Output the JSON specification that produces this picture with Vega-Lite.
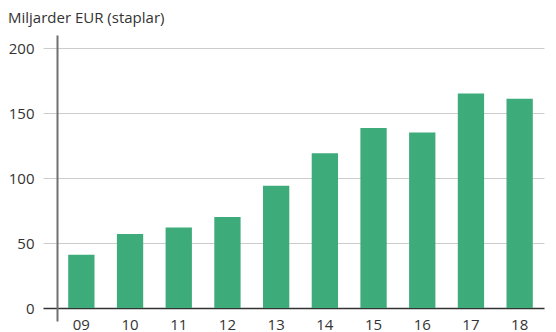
{
  "$schema": "https://vega.github.io/schema/vega-lite/v6.json",
  "autosize": "none",
  "width": 499,
  "height": 286,
  "padding": {"left": 57, "top": 35, "right": 0, "bottom": 11},
  "background": "white",
  "title": {
    "text": "Miljarder EUR (staplar)",
    "anchor": "start",
    "frame": "group",
    "dx": -49,
    "offset": 9,
    "font": "Open Sans",
    "fontSize": 15,
    "fontWeight": "normal",
    "color": "#333333"
  },
  "data": {
    "values": [
      {"year": "09", "value": 41},
      {"year": "10", "value": 57},
      {"year": "11", "value": 62},
      {"year": "12", "value": 70},
      {"year": "13", "value": 94},
      {"year": "14", "value": 119},
      {"year": "15", "value": 138.5},
      {"year": "16", "value": 135},
      {"year": "17", "value": 165},
      {"year": "18", "value": 161}
    ]
  },
  "config": {
    "view": {"stroke": null},
    "font": "Open Sans"
  },
  "mark": {"type": "bar", "color": "#3dab7a"},
  "encoding": {
    "x": {
      "field": "year",
      "type": "nominal",
      "sort": null,
      "scale": {"range": [0, 487], "paddingInner": 0.46},
      "axis": {
        "title": null,
        "domain": false,
        "ticks": false,
        "labelAngle": 0,
        "labelPadding": -4,
        "labelFont": "Open Sans",
        "labelFontSize": 15,
        "labelColor": "#333333"
      }
    },
    "y": {
      "field": "value",
      "type": "quantitative",
      "scale": {"domain": [-10, 210], "nice": false, "zero": false},
      "axis": {
        "title": null,
        "values": [0, 50, 100, 150, 200],
        "grid": true,
        "gridColor": {"condition": {"test": "datum.value === 0", "value": "#333333"}, "value": "#cccccc"},
        "gridWidth": {"condition": {"test": "datum.value === 0", "value": 1.5}, "value": 1},
        "tickColor": {"condition": {"test": "datum.value === 0", "value": "#333333"}, "value": "#cccccc"},
        "tickWidth": {"condition": {"test": "datum.value === 0", "value": 1.5}, "value": 1},
        "tickSize": 14,
        "labelPadding": 9,
        "labelFont": "Open Sans",
        "labelFontSize": 15,
        "labelColor": "#333333",
        "domain": true,
        "domainColor": "#707070",
        "domainWidth": 2
      }
    },
    "y2": {"datum": 0}
  }
}
